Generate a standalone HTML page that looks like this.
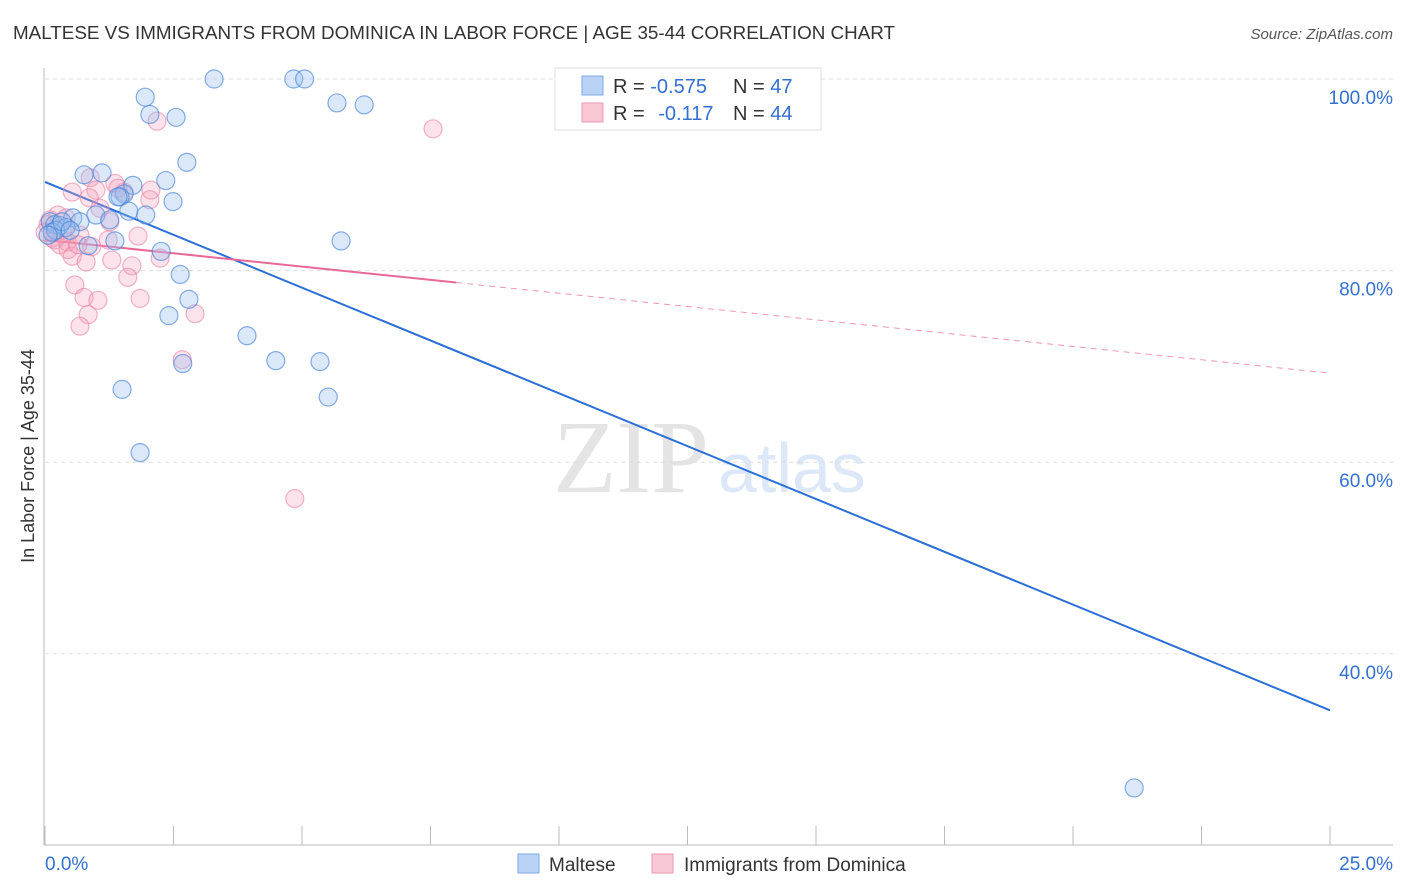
<!DOCTYPE html>
<html><head><meta charset="utf-8"><style>
body{margin:0;background:#fff;font-family:"Liberation Sans",sans-serif;}
svg{display:block}
</style></head><body>
<svg id="chart" width="1406" height="892" xmlns="http://www.w3.org/2000/svg">
<text x="13" y="39" font-size="18" fill="#333" textLength="882" lengthAdjust="spacingAndGlyphs">MALTESE VS IMMIGRANTS FROM DOMINICA IN LABOR FORCE | AGE 35-44 CORRELATION CHART</text>
<text x="1393" y="39" font-size="15" fill="#555" font-style="italic" text-anchor="end">Source: ZipAtlas.com</text>
<text transform="translate(34,456) rotate(-90)" font-size="18" fill="#333" text-anchor="middle">In Labor Force | Age 35-44</text>
<g>
<text x="553" y="492" font-family="Liberation Serif,serif" font-size="104" fill="#e4e4e4">ZIP</text>
<text x="718" y="492" font-size="70" fill="#dce8f7">atlas</text>
</g>
<g id="grid"></g>
<g id="axes"></g>
<g id="lines"></g>
<g id="points"></g>
<g>
<rect x="555" y="68" width="266" height="62" fill="#fff" stroke="#ddd"/>
<rect x="582" y="76" width="21" height="19" fill="#b8d3f5" stroke="#7eaae6"/>
<rect x="582" y="103" width="21" height="19" fill="#f9c6d4" stroke="#ec9ab3"/>
<text x="613" y="93" font-size="20" fill="#333">R = <tspan fill="#3470d0">-0.575</tspan></text>
<text x="733" y="93" font-size="20" fill="#333">N = <tspan fill="#3470d0">47</tspan></text>
<text x="613" y="120" font-size="20" fill="#333">R = <tspan fill="#3470d0" dx="8">-0.117</tspan></text>
<text x="733" y="120" font-size="20" fill="#333">N = <tspan fill="#3470d0">44</tspan></text>
</g>
<g>
<rect x="518" y="854" width="21" height="19" fill="#b8d3f5" stroke="#7eaae6"/>
<text x="549" y="871" font-size="19" fill="#333">Maltese</text>
<rect x="652" y="854" width="21" height="19" fill="#f9c6d4" stroke="#ec9ab3"/>
<text x="684" y="871" font-size="19" fill="#333">Immigrants from Dominica</text>
</g>
<text x="45" y="870" font-size="19" fill="#3470d0">0.0%</text>
<text x="1393" y="870" font-size="19" fill="#3470d0" text-anchor="end">25.0%</text>
</svg>
<script>
const yTicks=[100,80,60,40];
const yTickLabels=["100.0%","80.0%","60.0%","40.0%"];
const malteseX=[3.29,4.84,5.05,1.95,5.68,6.21,2.04,2.55,2.76,1.11,0.76,2.35,1.71,1.54,1.46,2.49,0.99,0.54,1.63,1.96,1.26,0.68,0.10,0.19,0.29,0.41,0.14,1.36,0.84,5.76,2.26,2.63,2.80,2.41,3.93,4.49,5.35,2.68,1.50,5.51,1.85,21.19,0.21,0.33,0.06,1.42,0.49];
const malteseY=[100,100,100,98.1,97.5,97.3,96.3,96.0,91.3,90.2,90.0,89.4,88.9,88.0,87.7,87.2,85.8,85.5,86.2,85.8,85.3,85.1,85.1,84.8,84.7,84.5,84.0,83.1,82.6,83.1,82.0,79.6,77.0,75.3,73.2,70.6,70.5,70.3,67.6,66.8,61.0,26.0,84.2,85.1,83.7,87.7,84.2];
const domX=[7.55,2.18,0.88,1.36,2.06,0.53,0.99,1.54,0.86,0.25,1.26,0.06,0.33,0.68,1.81,0.19,0.43,0.91,0.53,0.80,2.24,1.69,1.61,0.58,0.76,1.85,1.03,0.84,2.92,0.68,2.67,4.86,0.14,0.29,0.00,0.45,1.07,1.23,1.42,2.04,0.10,0.41,0.64,1.30];
const domY=[94.8,95.6,89.7,89.1,88.4,88.2,88.4,88.2,87.6,85.8,85.1,84.8,84.2,83.7,83.6,83.2,83.0,82.5,81.5,80.9,81.3,80.5,79.3,78.5,77.2,77.1,76.9,75.4,75.5,74.2,70.7,56.2,83.4,82.7,84.0,82.2,86.5,83.2,88.6,87.4,85.3,85.5,82.7,81.1];
const malteseTrend=[89.25,34.1];
const domTrend=[83.2,69.3];
const domSolidEnd=8.0;

const NS="http://www.w3.org/2000/svg";
const sx=v=>45+v*(1330-45)/25;
const sy=v=>79+(100-v)*9.58;
function mk(tag,attrs,parent){const e=document.createElementNS(NS,tag);for(const k in attrs)e.setAttribute(k,attrs[k]);parent.appendChild(e);return e;}
const grid=document.getElementById('grid'),axes=document.getElementById('axes'),lines=document.getElementById('lines'),pts=document.getElementById('points');
yTicks.forEach((t,i)=>{
 const l=mk('line',{x1:45,x2:1393,y1:sy(t),y2:sy(t),stroke:'#ddd','stroke-dasharray':'4,4'},grid);
 
 
 const tx=mk('text',{x:1393,y:sy(t)+25,'font-size':19,fill:'#3470d0','text-anchor':'end'},grid);
 tx.textContent=yTickLabels[i];
 
 
});
const ya=mk('line',{x1:44,x2:44,y1:68,y2:845,stroke:'#bbb'},axes);


const xa=mk('line',{x1:44,x2:1393,y1:845,y2:845,stroke:'#bbb'},axes);


for(let i=0;i<=10;i++){const v=i*2.5;const tk=mk('line',{x1:sx(v),x2:sx(v),y1:826,y2:845,stroke:'#bbb'},axes);
 
 }
const bl=mk('line',{x1:sx(0),y1:sy(malteseTrend[0]),x2:sx(25),y2:sy(malteseTrend[1]),stroke:'#2a6fd6','stroke-width':2},lines);


const dy=x=>domTrend[0]+(domTrend[1]-domTrend[0])*x/25;
const pl=mk('line',{x1:sx(0),y1:sy(dy(0)),x2:sx(domSolidEnd),y2:sy(dy(domSolidEnd)),stroke:'#e8689a','stroke-width':2},lines);


const pd=mk('line',{x1:sx(domSolidEnd),y1:sy(dy(domSolidEnd)),x2:sx(25),y2:sy(dy(25)),stroke:'#e8689a','stroke-width':1,'stroke-dasharray':'6,5',opacity:0.7},lines);


domX.forEach((x,i)=>{const c=mk('circle',{cx:sx(x),cy:sy(domY[i]),r:9,fill:'rgba(244,160,186,0.3)',stroke:'rgba(232,130,165,0.6)','stroke-width':1.2},pts);
 
 });
malteseX.forEach((x,i)=>{const c=mk('circle',{cx:sx(x),cy:sy(malteseY[i]),r:9,fill:'rgba(150,190,240,0.35)',stroke:'rgba(70,130,215,0.65)','stroke-width':1.2},pts);
 
 });
</script>
</body></html>
